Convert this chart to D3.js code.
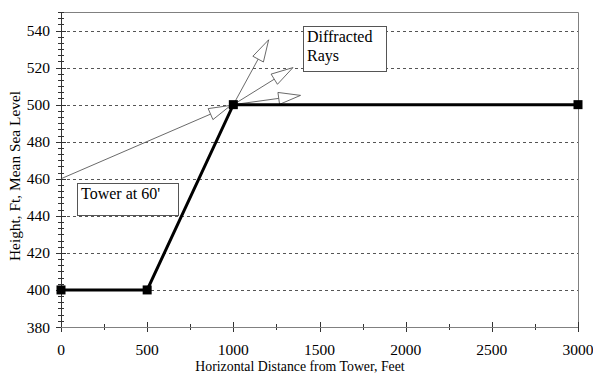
<!DOCTYPE html>
<html>
<head>
<meta charset="utf-8">
<script src="https://cdn.jsdelivr.net/npm/d3@7"></script>
<style>
  body { margin: 0; background: #fff; }
</style>
</head>
<body>
<svg id="chart"></svg>
<script>
// Terrain profile (distance ft, height ft)
const profileX = [0, 500, 1000, 3000];
const profileY = [400, 400, 500, 500];

// Rays: incident one from the tower top, diffracted ones from the ridge edge
const incidentRay = [[0, 460], [1000, 500]];
const diffractedTips = [[1205, 535], [1346, 520], [1390, 505]];
const edgePoint = [1000, 500];

const xTicks = [0, 500, 1000, 1500, 2000, 2500, 3000];
const yTicks = [380, 400, 420, 440, 460, 480, 500, 520, 540];

const width = 593, height = 375;
const margin = { top: 12, right: 15, bottom: 48, left: 61 };
const FONT = "'Liberation Serif', 'Times New Roman', serif";

const svg = d3.select("#chart")
  .attr("width", width)
  .attr("height", height)
  .attr("font-family", FONT);

const x = d3.scaleLinear().domain([0, 3000]).range([margin.left, width - margin.right]);
const y = d3.scaleLinear().domain([380, 550]).range([height - margin.bottom, margin.top]);

// Gridlines (dashed)
svg.append("g")
  .selectAll("line")
  .data(yTicks.filter(d => d > 380))
  .enter()
  .append("line")
  .attr("x1", x(0)).attr("x2", x(3000))
  .attr("y1", d => Math.round(y(d)) + 0.5).attr("y2", d => Math.round(y(d)) + 0.5)
  .attr("stroke", "#555")
  .attr("stroke-width", 1)
  .attr("stroke-dasharray", "3,3");

// Frame top / right
svg.append("path")
  .attr("d", `M${x(0)},${Math.round(y(550)) + 0.5}H${Math.round(x(3000)) + 0.5}V${y(380)}`)
  .attr("fill", "none")
  .attr("stroke", "#808080");

// Minor ticks on y axis (crossing the axis)
const yMinor = d3.range(380, 550.01, 20 / 6);
svg.append("g")
  .selectAll("line")
  .data(yMinor)
  .enter()
  .append("line")
  .attr("x1", x(0) - 3).attr("x2", x(0) + 3)
  .attr("y1", d => Math.round(y(d)) + 0.5).attr("y2", d => Math.round(y(d)) + 0.5)
  .attr("stroke", "#333");

// Major ticks y
svg.append("g")
  .selectAll("line")
  .data(yTicks)
  .enter()
  .append("line")
  .attr("x1", x(0) - 5).attr("x2", x(0) + 5)
  .attr("y1", d => Math.round(y(d)) + 0.5).attr("y2", d => Math.round(y(d)) + 0.5)
  .attr("stroke", "#333");

// x ticks: minor at 250, major at 500
svg.append("g")
  .selectAll("line")
  .data(d3.range(250, 3000, 500))
  .enter()
  .append("line")
  .attr("x1", d => Math.round(x(d)) + 0.5).attr("x2", d => Math.round(x(d)) + 0.5)
  .attr("y1", y(380) - 3).attr("y2", y(380) + 3)
  .attr("stroke", "#333");

svg.append("g")
  .selectAll("line")
  .data(xTicks)
  .enter()
  .append("line")
  .attr("x1", d => Math.round(x(d)) + 0.5).attr("x2", d => Math.round(x(d)) + 0.5)
  .attr("y1", y(380) - 5).attr("y2", y(380) + 5)
  .attr("stroke", "#333");

// Axis lines
svg.append("line")
  .attr("x1", Math.round(x(0)) + 0.5).attr("x2", Math.round(x(0)) + 0.5)
  .attr("y1", y(550)).attr("y2", y(380))
  .attr("stroke", "#333");
svg.append("line")
  .attr("x1", x(0)).attr("x2", x(3000))
  .attr("y1", Math.round(y(380)) + 0.5).attr("y2", Math.round(y(380)) + 0.5)
  .attr("stroke", "#808080");

// Tick labels
svg.append("g")
  .selectAll("text")
  .data(yTicks)
  .enter()
  .append("text")
  .attr("x", x(0) - 11)
  .attr("y", d => y(d) + 5.5)
  .attr("text-anchor", "end")
  .attr("font-size", 15.5)
  .text(d => d);

svg.append("g")
  .selectAll("text")
  .data(xTicks)
  .enter()
  .append("text")
  .attr("x", d => x(d))
  .attr("y", y(380) + 28)
  .attr("text-anchor", "middle")
  .attr("font-size", 15.5)
  .text(d => d);

// Axis titles
svg.append("text")
  .attr("x", 300)
  .attr("y", 371)
  .attr("text-anchor", "middle")
  .attr("font-size", 13.8)
  .text("Horizontal Distance from Tower, Feet");

svg.append("text")
  .attr("transform", "translate(20,176) rotate(-90)")
  .attr("text-anchor", "middle")
  .attr("font-size", 15.4)
  .text("Height, Ft, Mean Sea Level");

// Rays with open arrowheads
function drawArrow(p0, p1) {
  const x0 = x(p0[0]), y0 = y(p0[1]), x1 = x(p1[0]), y1 = y(p1[1]);
  const ang = Math.atan2(y1 - y0, x1 - x0);
  const len = 22, half = 6;
  const bx = x1 - len * Math.cos(ang), by = y1 - len * Math.sin(ang);
  svg.append("line")
    .attr("x1", x0).attr("y1", y0).attr("x2", bx).attr("y2", by)
    .attr("stroke", "#444").attr("stroke-width", 0.8);
  const nx = -Math.sin(ang) * half, ny = Math.cos(ang) * half;
  svg.append("path")
    .attr("d", `M${x1},${y1}L${bx + nx},${by + ny}L${bx - nx},${by - ny}Z`)
    .attr("fill", "#fff")
    .attr("stroke", "#444")
    .attr("stroke-width", 0.8);
}

drawArrow(incidentRay[0], [985, 499.6]);
diffractedTips.forEach(t => drawArrow(edgePoint, t));

// Terrain profile
const line = d3.line().x((d, i) => x(profileX[i])).y(d => y(d));
svg.append("path")
  .datum(profileY)
  .attr("d", line)
  .attr("fill", "none")
  .attr("stroke", "#000")
  .attr("stroke-width", 3);

svg.append("g")
  .selectAll("rect")
  .data(profileY)
  .enter()
  .append("rect")
  .attr("x", (d, i) => x(profileX[i]) - 4.5)
  .attr("y", d => y(d) - 4.5)
  .attr("width", 9)
  .attr("height", 9)
  .attr("fill", "#000");

// Annotation boxes
function noteBox(bx, by, bw, bh, lines) {
  svg.append("rect")
    .attr("x", bx + 0.5).attr("y", by + 0.5)
    .attr("width", bw).attr("height", bh)
    .attr("fill", "#fff")
    .attr("stroke", "#555");
  lines.forEach((t, i) => {
    svg.append("text")
      .attr("x", bx + 4)
      .attr("y", by + 16 + i * 19)
      .attr("font-size", 16)
      .text(t);
  });
}

noteBox(303, 26, 83, 45, ["Diffracted", "Rays"]);
noteBox(77, 183, 101, 32, ["Tower at 60'"]);
</script>
</body>
</html>
